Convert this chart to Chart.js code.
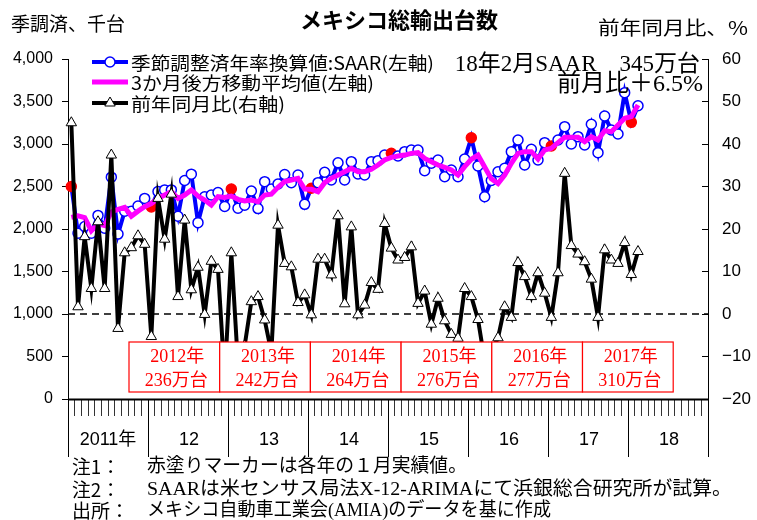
<!DOCTYPE html>
<html>
<head>
<meta charset="utf-8">
<script src="https://cdn.jsdelivr.net/npm/chart.js@4.4.1/dist/chart.umd.min.js"></script>
<style>
body { margin: 0; background: #fff; }
canvas { display: block; }
</style>
</head>
<body>
<canvas id="myChart" width="757" height="520"></canvas>
<script>
// months Jan 2011 .. Dec 2018 (axis), data runs to Feb 2018
const years = [2011, 2012, 2013, 2014, 2015, 2016, 2017, 2018];
const yearLabels = ['2011年', '12', '13', '14', '15', '16', '17', '18'];
const labels = [];
years.forEach(y => { for (let m = 1; m <= 12; m++) labels.push(y + '/' + m); });

// 季節調整済年率換算値 SAAR (千台)
const saar = [
  2500, 1950, 2030, 1950, 2160, 2010, 2610, 1940, 2210, 2210, 2270, 2360,
  2260, 2440, 2460, 2460, 2150, 2570, 2645, 2075, 2380, 2400, 2430, 2265,
  2470, 2245, 2280, 2447, 2240, 2557, 2470, 2530, 2640, 2545, 2635, 2290,
  2480, 2545, 2667, 2576, 2780, 2576, 2792, 2647, 2635, 2792, 2804, 2870,
  2890, 2860, 2910, 2930, 2930, 2686, 2773, 2812, 2615, 2694, 2615, 2824,
  3074, 2741, 2380, 2570, 2674, 2714, 2910, 3047, 2753, 2937, 2812, 3016,
  2976, 3047, 3204, 3000, 3086, 2988, 3232, 2898, 3329, 3165, 3118, 3604,
  3255, 3450
];
// 3か月後方移動平均値 (千台)
const movAvg = [
  2137, 2155, 2135, 1980, 2060, 2040, 2200, 2230, 2255, 2150, 2210, 2262,
  2300, 2360, 2400, 2440, 2360, 2400, 2459, 2388, 2341, 2282, 2380, 2370,
  2388, 2349, 2330, 2341, 2320, 2400, 2410, 2490, 2557, 2576, 2596, 2470,
  2467, 2439, 2545, 2596, 2635, 2674, 2714, 2674, 2674, 2702, 2753, 2812,
  2843, 2859, 2870, 2890, 2898, 2831, 2792, 2753, 2726, 2694, 2635, 2733,
  2820, 2870, 2730, 2590, 2535, 2635, 2773, 2890, 2910, 2910, 2824, 2929,
  2949, 3016, 3078, 3078, 3078, 3027, 3086, 3047, 3157, 3145, 3224, 3302,
  3322, 3459
];
// 前年同月比 (%)
const yoy = [
  45, 1.7, 18.2, 6, 21.7, 6, 37.4, -3.4, 14.4, 15.6, 18.4, 16.4,
  -5.3, 27.2, 17.6, 28.2, 4.1, 22.1, 5.7, 11, -0.1, 12.4, 10.5, -15,
  14.4, -12, -7.5, 2.9, 4.1, -1.4, -9, 20.9, 11.9, 11.1, 2.7, 4.5,
  -0.2, 12.9, 12.9, 9.2, 23.1, 2.4, 20.5, -0.2, 2.1, 7.4, 5.8, 21.3,
  15.5, 12.7, 13.3, 15.8, 2.5, 5.4, -2.4, 3.7, -1.6, -4.8, -5.7, 6,
  4.1, -1.3, -11, -9, -5.6, 1.7, -0.8, 12.1, 8.8, 4.1, 9.7, 4.9,
  -0.8, 9.7, 33.1, 16.1, 14.1, 12.3, 8.2, -0.8, 15.1, 12.7, 11.9, 16.8,
  9.3, 14.7
];

// annual totals shown in the boxes
const boxYears = ['2012年', '2013年', '2014年', '2015年', '2016年', '2017年'];
const boxTotals = ['236万台', '242万台', '264万台', '276万台', '277万台', '310万台'];

const seriesNames = ['季節調整済年率換算値:SAAR(左軸)', '3か月後方移動平均値(左軸)', '前年同月比(右軸)'];

const BLUE = '#0000FF', MAGENTA = '#FF00FF', RED = '#FF0000';
const JP = "'Noto Sans CJK JP'";
const SANS = "'Liberation Sans', " + JP;
const SERIF = "'Liberation Serif', " + JP;

const isJan = c => labels[c.dataIndex].split('/')[1] === '1';

// draw left-aligned text squeezed/stretched to a given width
function fitText(ctx, text, x, y, w) {
  const m = ctx.measureText(text).width;
  ctx.save();
  ctx.translate(x, y);
  ctx.scale(w / m, 1);
  ctx.textAlign = 'left';
  ctx.fillText(text, 0, 0);
  ctx.restore();
}

const decor = {
  id: 'decor',
  beforeDatasetsDraw(chart) {
    const { ctx, chartArea: a, scales } = chart;
    const y0 = scales.y1.getPixelForValue(0);
    ctx.save();
    ctx.setLineDash([7, 5]);
    ctx.lineWidth = 1.5;
    ctx.strokeStyle = '#000';
    ctx.beginPath();
    ctx.moveTo(a.left, y0);
    ctx.lineTo(a.right, y0);
    ctx.stroke();
    ctx.restore();
  },
  afterDatasetsDraw(chart) {
    const { ctx } = chart;
    const left = 129, w = 90.7, top = 342, h = 50;
    ctx.save();
    boxYears.forEach((yr, i) => {
      const x = left + i * w;
      ctx.fillStyle = '#fff';
      ctx.fillRect(x, top, w, h);
      ctx.strokeStyle = RED;
      ctx.lineWidth = 1.2;
      ctx.strokeRect(x, top, w, h);
      ctx.fillStyle = RED;
      ctx.font = '18px ' + SERIF;
      ctx.textAlign = 'center';
      ctx.textBaseline = 'middle';
      ctx.fillText(yr, x + w / 2 + 3, top + 15);
      ctx.fillText(boxTotals[i], x + w / 2 + 2, top + 39);
    });
    ctx.restore();
  },
  afterDraw(chart) {
    const { ctx, chartArea: a, scales: { x } } = chart;
    const mw = (a.right - a.left) / labels.length;
    ctx.save();
    // thicker bottom axis line
    ctx.strokeStyle = '#000';
    ctx.lineWidth = 2;
    ctx.beginPath();
    ctx.moveTo(a.left, a.bottom + 0.5);
    ctx.lineTo(a.right, a.bottom + 0.5);
    ctx.stroke();
    // year separators + labels
    ctx.lineWidth = 1;
    for (let k = 0; k <= years.length; k++) {
      const px = Math.round(x.getPixelForValue(k * 12) - mw / 2) + 0.5;
      ctx.beginPath();
      ctx.moveTo(px, a.bottom);
      ctx.lineTo(px, a.bottom + 58);
      ctx.stroke();
    }
    ctx.fillStyle = '#000';
    ctx.font = '18px ' + SANS;
    ctx.textAlign = 'center';
    ctx.textBaseline = 'middle';
    yearLabels.forEach((t, k) => {
      const px = x.getPixelForValue(k * 12 + 6) - mw / 2;
      ctx.fillText(t, px + (k === 0 ? 0 : 1), 440);
    });

    // titles
    ctx.font = 'bold 22px ' + JP;
    ctx.fillText('メキシコ総輸出台数', 399, 20);
    ctx.font = '19px ' + JP;
    fitText(ctx, '季調済、千台', 11, 24, 114);
    fitText(ctx, '前年同月比、%', 598, 28, 150);

    // annotation
    ctx.textAlign = 'right';
    ctx.font = '23px ' + SERIF;
    ctx.fillText('18年2月SAAR　345万台', 700, 65);
    ctx.font = '24px ' + SERIF;
    ctx.fillText('前月比＋6.5%', 703, 85);

    // legend
    const rows = [62, 82, 103];
    const widths = [303, 243, 154];
    chart.data.datasets.forEach((ds, i) => {
      const y = rows[i];
      ctx.strokeStyle = ds.borderColor;
      ctx.lineWidth = i === 1 ? 5 : 4;
      ctx.beginPath();
      ctx.moveTo(92, y);
      ctx.lineTo(128, y);
      ctx.stroke();
      if (i === 0) {
        ctx.fillStyle = '#fff';
        ctx.strokeStyle = BLUE;
        ctx.lineWidth = 1.5;
        ctx.beginPath();
        ctx.arc(110, y, 5, 0, Math.PI * 2);
        ctx.fill();
        ctx.stroke();
      } else if (i === 2) {
        ctx.fillStyle = '#fff';
        ctx.strokeStyle = '#000';
        ctx.lineWidth = 1;
        ctx.beginPath();
        ctx.moveTo(110, y - 6);
        ctx.lineTo(115.2, y + 3);
        ctx.lineTo(104.8, y + 3);
        ctx.closePath();
        ctx.fill();
        ctx.stroke();
      }
      ctx.fillStyle = '#000';
      ctx.font = '18px ' + JP;
      fitText(ctx, ds.label, 131, y + 1, widths[i]);
    });

    // notes
    ctx.font = '19px ' + JP;
    fitText(ctx, '注1：', 72, 467, 48);
    fitText(ctx, '注2：', 72, 490, 48);
    fitText(ctx, '出所：', 72, 511, 57);
    ctx.font = '19px ' + SERIF;
    fitText(ctx, '赤塗りマーカーは各年の１月実績値。', 147, 467, 320);
    fitText(ctx, 'SAARは米センサス局法X-12-ARIMAにて浜銀総合研究所が試算。', 147, 490, 585);
    fitText(ctx, 'メキシコ自動車工業会(AMIA)のデータを基に作成', 147, 511, 404);
    ctx.restore();
  }
};

new Chart(document.getElementById('myChart'), {
  type: 'line',
  data: {
    labels: labels,
    datasets: [{
      label: seriesNames[0],
      data: saar,
      yAxisID: 'y',
      order: 2,
      borderColor: BLUE,
      borderWidth: 4,
      pointStyle: 'circle',
      pointRadius: 5,
      pointBorderWidth: 1.5,
      pointBackgroundColor: c => isJan(c) ? RED : '#fff',
      pointBorderColor: c => isJan(c) ? RED : BLUE,
      tension: 0
    }, {
      label: seriesNames[1],
      data: movAvg,
      yAxisID: 'y',
      order: 1,
      borderColor: MAGENTA,
      borderWidth: 5,
      pointRadius: 0,
      tension: 0
    }, {
      label: seriesNames[2],
      data: yoy,
      yAxisID: 'y1',
      order: 0,
      borderColor: '#000',
      borderWidth: 4,
      pointStyle: 'triangle',
      pointRadius: 6,
      pointBorderWidth: 1,
      pointBackgroundColor: '#fff',
      pointBorderColor: '#000',
      tension: 0
    }]
  },
  options: {
    responsive: false,
    animation: false,
    devicePixelRatio: 1,
    layout: { padding: { top: 59, left: 0, right: 0, bottom: 0 } },
    plugins: { legend: { display: false }, title: { display: false }, tooltip: { enabled: false } },
    scales: {
      x: {
        type: 'category',
        offset: true,
        grid: { offset: true, drawOnChartArea: false, color: '#333', tickLength: 17 },
        border: { color: '#000', width: 1 },
        ticks: { display: false },
        afterFit: s => { s.height = 121; }
      },
      y: {
        position: 'left',
        min: 0,
        max: 4000,
        grid: { drawOnChartArea: false, color: '#000', tickLength: 6 },
        border: { color: '#000', width: 1 },
        ticks: {
          stepSize: 500,
          color: '#000',
          padding: 9,
          font: { family: SANS, size: 16 },
          callback: v => v.toLocaleString('en-US')
        },
        afterFit: s => { s.width = 68; }
      },
      y1: {
        position: 'right',
        min: -20,
        max: 60,
        grid: { drawOnChartArea: false, color: '#000', tickLength: -6 },
        border: { color: '#000', width: 1 },
        ticks: {
          stepSize: 10,
          color: '#000',
          padding: 20,
          font: { family: SANS, size: 17 },
          callback: v => v < 0 ? '−' + Math.abs(v) : String(v)
        },
        afterFit: s => { s.width = 49; }
      }
    }
  },
  plugins: [decor]
});
</script>
</body>
</html>
